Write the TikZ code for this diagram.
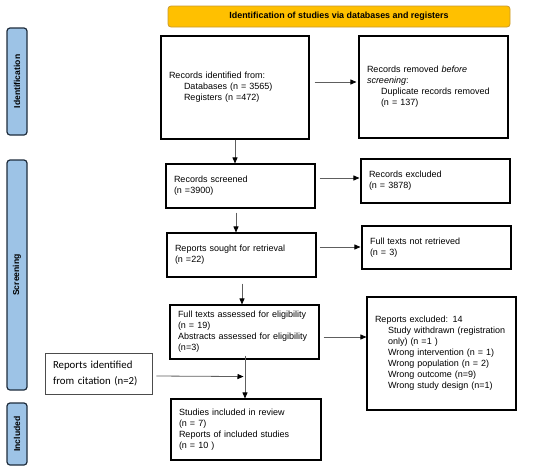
\documentclass[tikz,border=0pt]{standalone}
\usepackage{fontspec}
\setmainfont{Liberation Sans}
\newfontfamily\calib{Carlito}
\usetikzlibrary{calc,arrows.meta}
\definecolor{hdrfill}{HTML}{FFC000}
\definecolor{hdrline}{HTML}{C99A2E}
\definecolor{sidefill}{HTML}{9DC3E6}
\definecolor{sideline}{HTML}{1F2D3D}
\definecolor{arrline}{HTML}{5E5E5E}
\tikzset{
  box/.style={draw=black, line width=1.1pt, fill=white, inner xsep=8pt, inner ysep=2pt,
    align=left, font=\fontsize{9}{11}\selectfont, anchor=center},
  hdr/.style={draw=hdrline, line width=0.8pt, fill=hdrfill, rounded corners=3pt,
    font=\bfseries\fontsize{8.9}{10}\selectfont, minimum width=342pt, minimum height=21pt, inner sep=0pt},
  side/.style={draw=sideline, line width=1.2pt, fill=sidefill, rounded corners=3pt,
    minimum width=20pt, inner sep=0pt},
  sidetext/.style={rotate=90, font=\bfseries\fontsize{8.6}{10}\selectfont},
  arr/.style={draw=arrline, line width=0.8pt, -{Triangle[length=6pt,width=5pt,fill=black,color=black]}}
}
\begin{document}
\begin{tikzpicture}[x=1pt,y=-1pt]
\useasboundingbox (0,0) rectangle (550,472);
% header
\node[hdr] (hdr) at (339,16.5) {Identification of studies via databases and registers};
% side labels
\node[side, minimum height=107pt] (sidA) at (17,81.5) {};
\node[sidetext] (sidAt) at (sidA.center) {Identification};
\node[side, minimum height=230pt] (sidB) at (17,275) {};
\node[sidetext] (sidBt) at (sidB.center) {Screening};
\node[side, minimum height=62pt] (sidC) at (17,434) {};
\node[sidetext] (sidCt) at (sidC.center) {Included};
% boxes
\node[box, minimum width=148pt, minimum height=103pt, text width=132pt] (ident) at (235,87.5)
  {Records identified from:\\\hspace*{15pt}Databases (n = 3565)\\\hspace*{15pt}Registers (n =472)};
\node[box, minimum width=149pt, minimum height=102pt, text width=133pt] (removed) at (433.5,87)
  {Records removed \textit{before}\\\textit{screening}:\\\hspace*{14pt}Duplicate records removed\\\hspace*{14pt}(n = 137)};
\node[box, minimum width=149pt, minimum height=44pt, text width=133pt] (screened) at (240.5,186)
  {Records screened\\(n =3900)};
\node[box, minimum width=149pt, minimum height=44pt, text width=133pt] (excluded) at (435.5,181)
  {Records excluded\\(n = 3878)};
\node[box, minimum width=149pt, minimum height=44pt, text width=133pt] (sought) at (241.5,255)
  {Reports sought for retrieval\\(n =22)};
\node[box, minimum width=149pt, minimum height=43pt, text width=133pt] (notretr) at (436.5,247.5)
  {Full texts not retrieved\\(n = 3)};
\node[box, minimum width=149pt, minimum height=54pt, text width=133pt] (full) at (244.5,332)
  {Full texts assessed for eligibility\\(n = 19)\\Abstracts assessed for eligibility\\(n=3)};
\node[box, minimum width=149pt, minimum height=113pt, text width=133pt] (repexcl) at (441.5,353.5)
  {Reports excluded: 14\\\hspace*{13pt}Study withdrawn (registration\\\hspace*{13pt}only) (n =1 )\\\hspace*{13pt}Wrong intervention (n = 1)\\\hspace*{13pt}Wrong population (n = 2)\\\hspace*{13pt}Wrong outcome (n=9)\\\hspace*{13pt}Wrong study design (n=1)};
\node[box, line width=0.6pt, draw=black!70, minimum width=107pt, minimum height=41pt, text width=91pt,
  font=\calib\fontsize{10.8}{16}\selectfont] (citation) at (98.5,373.5)
  {Reports identified\\from citation (n=2)};
\node[box, minimum width=150pt, minimum height=61pt, text width=134pt] (included) at (246,429.5)
  {Studies included in review\\(n = 7)\\Reports of included studies\\(n = 10 )};
% connectors
\draw[arr] ($(ident.east)+(5,-5.5)$) -- ($(removed.west)+(-2,-5)$);
\draw[arr] ($(screened.east)+(4,-8)$) -- ($(excluded.west)+(-1,-3)$);
\draw[arr] ($(sought.east)+(3,-8)$) -- ($(notretr.west)+(-1,-0.5)$);
\draw[arr] ($(full.east)+(4,5)$) -- ($(repexcl.west)+(0,-16.5)$);
\draw[arr] (ident.south) -- (ident.south |- screened.north);
\draw[arr] ($(screened.south)+(-4.5,4)$) -- ($(sought.north)+(-5.5,0)$);
\draw[arr] ($(sought.south)+(0.5,6)$) -- ($(full.north)+(-2.5,0)$);
\coordinate (top) at ($(full.south)+(0.5,-4)$);
\draw[arr] (top) -- (top |- included.north);
\coordinate (join) at ($(top)+(-1.5,21)$);
\draw[arr] ($(citation.east)+(4,2.5)$) -- (join);
\end{tikzpicture}
\end{document}
